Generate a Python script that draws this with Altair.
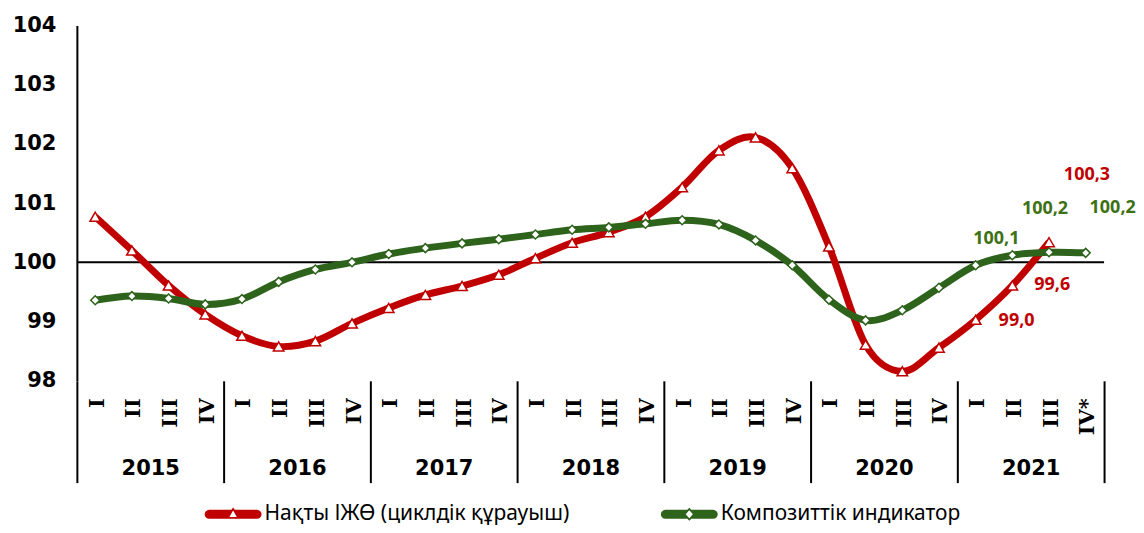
import json
import math
import altair as alt
import pandas as pd

# ---------------- data ----------------
years = ["2015", "2016", "2017", "2018", "2019", "2020", "2021"]
quarter_labels = ["I", "II", "III", "IV"] * 6 + ["I", "II", "III", "IV*"]
series_names = ["Нақты ІЖӨ (циклдік құрауыш)", "Композиттік индикатор"]

gdp = [100.77, 100.20, 99.61, 99.12,
       98.76, 98.58, 98.67, 98.97,
       99.23, 99.45, 99.60, 99.79,
       100.07, 100.33, 100.51, 100.77,
       101.27, 101.89, 102.11, 101.59,
       100.27, 98.61, 98.16, 98.56,
       99.03, 99.61, 100.34]
composite = [99.36, 99.43, 99.39, 99.29,
             99.38, 99.67, 99.88, 100.00,
             100.14, 100.24, 100.32, 100.39,
             100.47, 100.55, 100.59, 100.65,
             100.71, 100.64, 100.37, 99.95,
             99.37, 99.02, 99.19, 99.57,
             99.95, 100.12, 100.17, 100.16]
reference_level = [100]
y_ticks = [98, 99, 100, 101, 102, 103, 104]

RED = "#C00000"
GREEN = "#2E631C"
GREEN_TXT = "#3D7114"


def fmt(v):
    return f"{v:.1f}".replace(".", ",")


rows = []
for s, vals in zip(series_names, [gdp, composite]):
    for i, v in enumerate(vals):
        rows.append({"series": s, "idx": i, "pos": i + 0.5, "value": v, "label": fmt(v)})
df = pd.DataFrame(rows)
rule_df = pd.DataFrame({"value": reference_level})
nq = len(quarter_labels)
year_df = pd.DataFrame({"start": [4 * i for i in range(len(years))]})
edge_df = pd.DataFrame({"start": [nq]})

# ---------------- legend symbols (thick line + hollow marker) ----------------
U = 10.5          # px per unit of the custom symbol path (sqrt(size)/2)
SYM_HALF = 28.5   # half length of the drawn legend line in px


def cap_points(cx, r, start, end, n=8):
    pts = []
    for k in range(n + 1):
        a = math.radians(start + (end - start) * k / n)
        pts.append((cx + r * math.cos(a), r * math.sin(a)))
    return pts


def path(points):
    return "M" + "L".join(f"{x / U:.4f},{y / U:.4f}" for x, y in points) + "Z"


H = 4.5
L = SYM_HALF - H
tri_outer = ([(-L, -H), (-1.7, -H), (0, -6.8), (1.7, -H), (L, -H)]
             + cap_points(L, H, -90, 90)[1:-1]
             + [(L, H), (-L, H)]
             + cap_points(-L, H, 90, 270)[1:-1])
tri_hole = [(0, -3.9), (-3.7, 2.8), (3.7, 2.8)]
dia_outer = ([(-L, -H), (-2.0, -H), (0, -6.5), (2.0, -H), (L, -H)]
             + cap_points(L, H, -90, 90)[1:-1]
             + [(L, H), (2.0, H), (0, 6.5), (-2.0, H), (-L, H)]
             + cap_points(-L, H, 90, 270)[1:-1])
dia_hole = [(0, -4.0), (-3.6, 0), (0, 4.0), (3.6, 0)]
sym_red = path(tri_outer) + path(tri_hole)
sym_green = path(dia_outer) + path(dia_hole)

# ---------------- scales / axes ----------------
xscale = alt.Scale(domain=[0, nq], nice=False, zero=False)
yscale = alt.Scale(domain=[98, 104], nice=False, zero=False)

q_axis = alt.Axis(
    values=[i + 0.5 for i in range(nq)],
    labelExpr=f"{json.dumps(quarter_labels)}[floor(datum.value)]",
    labelAngle=270, labelAlign="right", labelBaseline="middle",
    labelPadding=17, labelOffset=2, ticks=False, domain=False, grid=False,
    title=None, labelFont="DejaVu Serif", labelFontWeight="bold",
    labelFontSize=21, labelColor="black", labelFlush=False,
    labelOverlap=False, labelBound=False,
)
year_axis = alt.Axis(
    orient="bottom",
    values=[4 * i for i in range(len(years))],
    labelExpr=f"{json.dumps(years)}[datum.value / 4]",
    domain=False, grid=False, ticks=True, tickSize=102, tickWidth=2,
    tickColor="black", labelFont="DejaVu Sans", labelFontWeight="bold",
    labelFontSize=21, labelColor="black", labelPadding=-14,
    labelBaseline="middle", labelAlign="center", labelOffset=73.5, labelAngle=0,
    title=None, labelFlush=False, labelOverlap=False, labelBound=False,
)
edge_axis = alt.Axis(
    orient="bottom", values=[nq], labels=False, domain=False, grid=False,
    ticks=True, tickSize=102, tickWidth=2, tickColor="black", title=None,
)
y_axis = alt.Axis(
    values=y_ticks, domain=True, domainColor="black", domainWidth=2,
    ticks=False, grid=False, title=None, labelFont="DejaVu Sans",
    labelFontWeight="bold", labelFontSize=21, labelColor="black",
    labelPadding=21, labelFlush=False,
)

x_enc = alt.X("pos:Q", scale=xscale, axis=q_axis)
y_enc = alt.Y("value:Q", scale=yscale, axis=y_axis)

base = alt.Chart(df)

rule = alt.Chart(rule_df).mark_rule(color="black", strokeWidth=2).encode(y=y_enc)

red_line = base.transform_filter(alt.datum.series == series_names[0]).mark_line(
    color=RED, strokeWidth=7, interpolate="cardinal").encode(x=x_enc, y=y_enc)
red_pts = base.transform_filter(alt.datum.series == series_names[0]).mark_point(
    shape="triangle-up", filled=True, fill="white", stroke=RED, strokeWidth=1.5,
    size=110, opacity=1).encode(x=x_enc, y=y_enc)
green_line = base.transform_filter(alt.datum.series == series_names[1]).mark_line(
    color=GREEN, strokeWidth=7, interpolate="cardinal").encode(x=x_enc, y=y_enc)
green_pts = base.transform_filter(alt.datum.series == series_names[1]).mark_point(
    shape="diamond", filled=True, fill="white", stroke=GREEN, strokeWidth=1.5,
    size=80, opacity=1).encode(x=x_enc, y=y_enc)

# data labels: (series index, quarter index, dx, dy)
label_specs = [(0, 24, 41, 1), (0, 25, 40, 0), (0, 26, 38, -67),
               (1, 25, -16, -16), (1, 26, -4, -43), (1, 27, 27, -45)]
label_layers = []
for si, qi, dx, dy in label_specs:
    label_layers.append(
        base.transform_filter((alt.datum.series == series_names[si]) & (alt.datum.idx == qi))
        .mark_text(font="Noto Sans", fontWeight="bold", fontSize=18,
                   color=RED if si == 0 else GREEN_TXT, dx=dx, dy=dy,
                   align="center", baseline="middle")
        .encode(x=x_enc, y=y_enc, text="label:N")
    )

legend = alt.Legend(
    title=None, orient="none", legendX=128, legendY=479, direction="horizontal",
    symbolSize=(2 * U) ** 2, symbolStrokeWidth=0,
    labelFont="Noto Sans", labelFontSize=21, labelColor="black",
    symbolOffset=SYM_HALF - U, labelOffset=SYM_HALF + 3 - U,
    columnPadding=90, labelLimit=600, padding=0,
)
legend_layer = base.transform_filter("false").mark_point(
    filled=True, opacity=1, strokeWidth=0).encode(
    x=x_enc, y=y_enc,
    color=alt.Color("series:N", scale=alt.Scale(domain=series_names, range=[RED, GREEN]), legend=legend),
    shape=alt.Shape("series:N", scale=alt.Scale(domain=series_names, range=[sym_red, sym_green]), legend=legend),
)

main = alt.layer(rule, red_line, red_pts, green_line, green_pts, *label_layers, legend_layer)

year_layer = alt.Chart(year_df).mark_point(opacity=0).encode(
    x=alt.X("start:Q", scale=alt.Scale(domain=[0, nq], nice=False, zero=False), axis=year_axis)
)
edge_layer = alt.Chart(edge_df).mark_point(opacity=0).encode(
    x=alt.X("start:Q", scale=alt.Scale(domain=[0, nq], nice=False, zero=False), axis=edge_axis)
)

chart = (
    alt.layer(main, year_layer, edge_layer)
    .resolve_scale(x="independent")
    .properties(width=1029, height=356,
                padding={"left": 4, "top": 6, "right": 0, "bottom": 0})
    .configure_view(strokeWidth=0)
)

chart.save("out.html", embed_options={"renderer": "svg", "actions": False})
